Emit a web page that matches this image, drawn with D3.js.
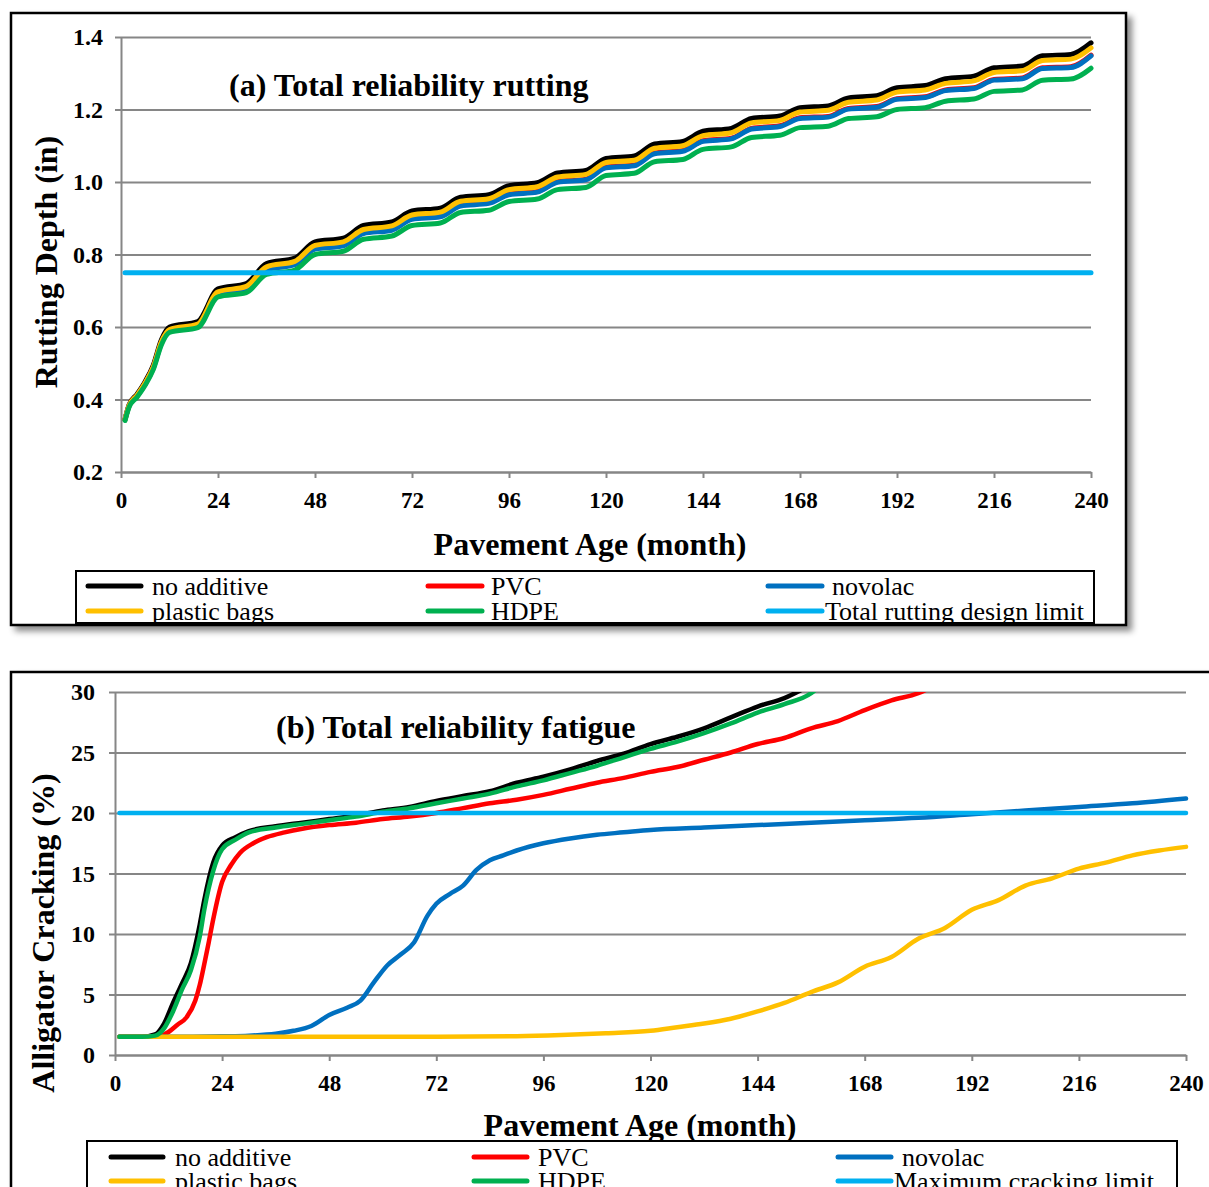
<!DOCTYPE html>
<html>
<head>
<meta charset="utf-8">
<script src="https://cdn.jsdelivr.net/npm/d3@7"></script>
<style>
  body { margin: 0; background: #fff; }
  svg { display: block; font-family: "Liberation Serif", "Times New Roman", serif; }
</style>
</head>
<body>
<div id="chart"></div>
<script>
// ---- (a) rutting data, in inches, by pavement age in months
var rutMonths = [1, 2, 4, 6, 8, 10, 12, 19, 24, 31, 36, 43, 48, 55, 60, 67, 72, 79, 84, 91, 96, 103, 108, 115, 120,
  127, 132, 139, 144, 151, 156, 163, 168, 175, 180, 187, 192, 199, 204, 211, 216, 223, 228, 235, 240];
var rutNoAdditive = [0.345, 0.385, 0.415, 0.45, 0.495, 0.565, 0.600, 0.615, 0.705, 0.720, 0.775, 0.790, 0.835, 0.845,
  0.880, 0.890, 0.920, 0.928, 0.958, 0.965, 0.990, 0.998, 1.025, 1.032, 1.065, 1.072, 1.105, 1.112, 1.140, 1.148,
  1.175, 1.182, 1.205, 1.210, 1.232, 1.238, 1.260, 1.266, 1.285, 1.292, 1.315, 1.320, 1.348, 1.352, 1.384];
var rutPVC = [0.345, 0.383, 0.411, 0.445, 0.489, 0.557, 0.591, 0.605, 0.692, 0.706, 0.760, 0.774, 0.817, 0.826,
  0.860, 0.869, 0.899, 0.906, 0.936, 0.943, 0.967, 0.974, 1.001, 1.008, 1.041, 1.047, 1.080, 1.087, 1.114, 1.121,
  1.148, 1.155, 1.177, 1.181, 1.203, 1.208, 1.230, 1.235, 1.254, 1.260, 1.283, 1.287, 1.315, 1.318, 1.350];
var rutNovolac = [0.345, 0.382, 0.410, 0.443, 0.487, 0.555, 0.589, 0.603, 0.690, 0.704, 0.758, 0.772, 0.815, 0.824,
  0.858, 0.867, 0.897, 0.904, 0.934, 0.941, 0.965, 0.972, 0.999, 1.006, 1.039, 1.045, 1.078, 1.085, 1.112, 1.119,
  1.146, 1.153, 1.175, 1.179, 1.201, 1.206, 1.228, 1.233, 1.252, 1.258, 1.281, 1.285, 1.313, 1.316, 1.348];
var rutPlasticBags = [0.345, 0.383, 0.412, 0.446, 0.490, 0.559, 0.593, 0.608, 0.697, 0.712, 0.766, 0.781, 0.825, 0.835,
  0.869, 0.879, 0.909, 0.917, 0.947, 0.954, 0.979, 0.987, 1.014, 1.021, 1.054, 1.060, 1.093, 1.100, 1.128, 1.136,
  1.163, 1.170, 1.193, 1.198, 1.220, 1.226, 1.248, 1.254, 1.272, 1.279, 1.302, 1.307, 1.335, 1.339, 1.370];
var rutHDPE = [0.342, 0.379, 0.407, 0.440, 0.483, 0.551, 0.585, 0.598, 0.683, 0.695, 0.745, 0.757, 0.800, 0.809,
  0.842, 0.851, 0.880, 0.887, 0.916, 0.922, 0.946, 0.953, 0.979, 0.985, 1.018, 1.024, 1.056, 1.062, 1.090, 1.097,
  1.123, 1.129, 1.150, 1.154, 1.175, 1.180, 1.200, 1.205, 1.223, 1.229, 1.250, 1.254, 1.281, 1.284, 1.314];
var rutLimit = 0.75;
var rutYTicks = [0.2, 0.4, 0.6, 0.8, 1.0, 1.2, 1.4];

// ---- (b) fatigue data, alligator cracking in %
var fatNoAdditiveMonths = [1, 6, 9, 11, 13, 15, 17, 19, 20, 22, 24, 27, 30, 36, 42, 48, 54, 60, 66, 72, 78, 84, 90, 96,
  102, 108, 114, 120, 126, 132, 138, 144, 150, 156];
var fatNoAdditive = [1.5, 1.5, 1.7, 2.6, 4.3, 5.9, 7.6, 10.8, 12.8, 15.9, 17.3, 18.0, 18.5, 18.9, 19.2, 19.5, 19.8, 20.2,
  20.5, 21.0, 21.4, 21.8, 22.5, 23.0, 23.6, 24.3, 24.9, 25.7, 26.3, 27.0, 27.9, 28.8, 29.5, 30.6];
var fatPVCMonths = [1, 8, 10, 12, 14, 16, 18, 19, 20, 21, 22, 24, 26, 28, 31, 34, 38, 42, 48, 54, 60, 66, 72, 78, 84, 90,
  96, 102, 108, 114, 120, 126, 132, 138, 144, 150, 156, 162, 168, 174, 180, 183];
var fatPVC = [1.5, 1.5, 1.55, 1.9, 2.5, 3.1, 4.5, 5.8, 7.5, 9.3, 11.2, 14.3, 15.7, 16.7, 17.5, 18.0, 18.4, 18.7, 19.0,
  19.2, 19.5, 19.7, 20.0, 20.4, 20.8, 21.1, 21.5, 22.0, 22.5, 22.9, 23.4, 23.8, 24.4, 25.0, 25.7, 26.2, 27.0, 27.6,
  28.5, 29.3, 29.9, 30.4];
var fatNovolacMonths = [1, 12, 24, 30, 36, 40, 44, 48, 52, 55, 58, 61, 64, 67, 70, 72, 75, 78, 81, 84, 87, 90, 96, 102,
  108, 114, 120, 132, 144, 156, 168, 180, 192, 204, 216, 228, 240];
var fatNovolac = [1.5, 1.5, 1.55, 1.6, 1.75, 2.0, 2.4, 3.3, 3.9, 4.5, 6.0, 7.4, 8.3, 9.3, 11.5, 12.5, 13.3, 14.0, 15.3,
  16.1, 16.5, 16.9, 17.5, 17.9, 18.2, 18.4, 18.6, 18.8, 19.0, 19.2, 19.4, 19.6, 19.9, 20.2, 20.5, 20.8, 21.2];
var fatPlasticBagsMonths = [1, 24, 48, 72, 90, 100, 110, 120, 126, 132, 138, 144, 150, 156, 162, 168, 174, 180, 186, 192,
  198, 204, 210, 216, 222, 228, 234, 240];
var fatPlasticBags = [1.5, 1.5, 1.5, 1.5, 1.55, 1.65, 1.8, 2.0, 2.3, 2.6, 3.0, 3.6, 4.3, 5.2, 6.0, 7.3, 8.1, 9.6, 10.5,
  12.0, 12.8, 14.0, 14.6, 15.4, 15.9, 16.5, 16.9, 17.2];
var fatHDPEMonths = [1, 6, 9, 11, 13, 15, 17, 19, 20, 22, 24, 27, 30, 36, 42, 48, 54, 60, 66, 72, 78, 84, 90, 96,
  102, 108, 114, 120, 126, 132, 138, 144, 150, 156, 158];
var fatHDPE = [1.5, 1.5, 1.6, 2.2, 3.6, 5.4, 7.0, 9.8, 12.0, 15.2, 17.0, 17.8, 18.4, 18.8, 19.1, 19.4, 19.7, 20.1,
  20.4, 20.8, 21.2, 21.6, 22.2, 22.7, 23.3, 23.9, 24.6, 25.3, 25.9, 26.6, 27.4, 28.3, 29.0, 29.9, 30.5];
var fatLimit = 20;
var fatYTicks = [0, 5, 10, 15, 20, 25, 30];

var monthTicks = [0, 24, 48, 72, 96, 120, 144, 168, 192, 216, 240];
var seriesNames = ["no additive", "PVC", "novolac", "plastic bags", "HDPE"];
var seriesColors = ["#000000", "#FF0000", "#0070C0", "#FFC000", "#00B050"];
var limitColor = "#00B0F0";

function zip(ms, vs) {
  return ms.map(function(m, i) { return {m: m, v: vs[i]}; });
}

var svg = d3.select("#chart").append("svg")
  .attr("width", 1209)
  .attr("height", 1187);

var defs = svg.append("defs");
var shadow = defs.append("filter").attr("id", "shadow")
  .attr("x", "-5%").attr("y", "-5%").attr("width", "112%").attr("height", "112%");
shadow.append("feDropShadow")
  .attr("dx", 5).attr("dy", 5).attr("stdDeviation", 3)
  .attr("flood-color", "#000").attr("flood-opacity", 0.45);

function drawPanel(cfg) {
  var g = svg.append("g");

  // outer frame
  g.append("rect")
    .attr("x", cfg.frame[0]).attr("y", cfg.frame[1])
    .attr("width", cfg.frame[2]).attr("height", cfg.frame[3])
    .attr("fill", "#fff").attr("stroke", "#000").attr("stroke-width", 2.5)
    .attr("filter", "url(#shadow)");

  var x = d3.scaleLinear().domain([0, 240]).range([cfg.left, cfg.right]);
  var y = d3.scaleLinear().domain(cfg.yDomain).range([cfg.bottom, cfg.top]);

  // gridlines
  g.append("g")
    .attr("transform", "translate(" + cfg.left + ",0)")
    .call(d3.axisLeft(y).tickValues(cfg.yTicks).tickSize(-(cfg.right - cfg.left)).tickFormat(""))
    .call(function(a) {
      a.select(".domain").remove();
      a.selectAll("line").attr("stroke", "#868686").attr("stroke-width", 2);
    });

  // y axis
  g.append("g")
    .attr("transform", "translate(" + cfg.left + ",0)")
    .call(d3.axisLeft(y).tickValues(cfg.yTicks).tickSize(6).tickSizeOuter(0)
      .tickPadding(cfg.yPad).tickFormat(cfg.yFormat))
    .call(function(a) {
      a.select(".domain").attr("stroke", "#868686").attr("stroke-width", 2);
      a.selectAll("line").attr("stroke", "#868686").attr("stroke-width", 2);
      a.selectAll("text").attr("font-size", 24).attr("font-weight", "bold")
        .attr("fill", "#000").attr("font-family", "Liberation Serif");
    });

  // x axis
  g.append("g")
    .attr("transform", "translate(0," + cfg.bottom + ")")
    .call(d3.axisBottom(x).tickValues(monthTicks).tickSize(6).tickSizeOuter(0).tickPadding(14))
    .call(function(a) {
      a.select(".domain").attr("stroke", "#868686").attr("stroke-width", 2);
      a.selectAll("line").attr("stroke", "#868686").attr("stroke-width", 2);
      a.selectAll("text").attr("font-size", 23).attr("font-weight", "bold")
        .attr("fill", "#000").attr("font-family", "Liberation Serif");
    });

  // clip for values running over the top
  var clipId = "clip" + cfg.id;
  defs.append("clipPath").attr("id", clipId)
    .append("rect")
    .attr("x", cfg.left - 10).attr("y", cfg.top)
    .attr("width", cfg.right - cfg.left + 20).attr("height", cfg.bottom - cfg.top + 10);

  var line = d3.line()
    .x(function(d) { return x(d.m); })
    .y(function(d) { return y(d.v); })
    .curve(d3.curveMonotoneX);

  var lines = g.append("g").attr("clip-path", "url(#" + clipId + ")");
  cfg.series.forEach(function(s, i) {
    lines.append("path")
      .datum(s)
      .attr("d", line)
      .attr("fill", "none")
      .attr("stroke", seriesColors[i])
      .attr("stroke-width", cfg.lineWidth)
      .attr("stroke-linecap", "round")
      .attr("stroke-linejoin", "round");
  });
  lines.append("path")
    .datum([{m: 1, v: cfg.limit}, {m: 240, v: cfg.limit}])
    .attr("d", line)
    .attr("fill", "none")
    .attr("stroke", limitColor)
    .attr("stroke-width", cfg.lineWidth)
    .attr("stroke-linecap", "round");

  // chart title inside the plot
  g.append("text")
    .attr("x", cfg.titleX).attr("y", cfg.titleY)
    .attr("dominant-baseline", "central")
    .attr("font-size", 32).attr("font-weight", "bold")
    .text(cfg.title);

  // axis titles
  g.append("text")
    .attr("x", cfg.xTitleX).attr("y", cfg.xTitleY)
    .attr("text-anchor", "middle").attr("dominant-baseline", "central")
    .attr("font-size", 32).attr("font-weight", "bold")
    .text("Pavement Age (month)");

  g.append("text")
    .attr("transform", "translate(" + cfg.yTitleX + "," + cfg.yTitleY + ") rotate(-90)")
    .attr("text-anchor", "middle").attr("dominant-baseline", "central")
    .attr("font-size", 32).attr("font-weight", "bold")
    .text(cfg.yTitle);

  // legend
  var lg = g.append("g");
  lg.append("rect")
    .attr("x", cfg.legendBox[0]).attr("y", cfg.legendBox[1])
    .attr("width", cfg.legendBox[2]).attr("height", cfg.legendBox[3])
    .attr("fill", "#fff").attr("stroke", "#000").attr("stroke-width", 2);

  var items = seriesNames.map(function(n, i) { return {name: n, color: seriesColors[i]}; });
  items.push({name: cfg.limitName, color: limitColor});
  var cols = cfg.legendCols;
  var rows = cfg.legendRows;
  items.forEach(function(it, i) {
    var c = i % 3, r = Math.floor(i / 3);
    lg.append("line")
      .attr("x1", cols[c][0]).attr("x2", cols[c][1])
      .attr("y1", rows[r]).attr("y2", rows[r])
      .attr("stroke", it.color).attr("stroke-width", 5).attr("stroke-linecap", "round");
    var tx = (i === 5) ? cols[c][1] + 3 : cols[c][2];
    lg.append("text")
      .attr("x", tx).attr("y", rows[r])
      .attr("dominant-baseline", "central")
      .attr("font-size", 26)
      .text(it.name);
  });
}

drawPanel({
  id: "a",
  frame: [11, 13, 1115, 612],
  left: 121, right: 1091, top: 37, bottom: 472,
  yDomain: [0.2, 1.4], yTicks: rutYTicks, yFormat: d3.format(".1f"), yPad: 12,
  lineWidth: 5,
  series: [
    zip(rutMonths, rutNoAdditive),
    zip(rutMonths, rutPVC),
    zip(rutMonths, rutNovolac),
    zip(rutMonths, rutPlasticBags),
    zip(rutMonths, rutHDPE)
  ],
  limit: rutLimit,
  limitName: "Total rutting design limit",
  title: "(a) Total reliability rutting", titleX: 229, titleY: 85,
  xTitleX: 590, xTitleY: 544,
  yTitle: "Rutting Depth (in)", yTitleX: 46, yTitleY: 262,
  legendBox: [76, 571, 1018, 52],
  legendCols: [[88, 141, 152], [428, 482, 491], [768, 822, 832]],
  legendRows: [586, 611]
});

drawPanel({
  id: "b",
  frame: [11, 672, 1300, 600],
  left: 115, right: 1186, top: 692, bottom: 1055,
  yDomain: [0, 30], yTicks: fatYTicks, yFormat: d3.format("d"), yPad: 14,
  lineWidth: 4.5,
  series: [
    zip(fatNoAdditiveMonths, fatNoAdditive),
    zip(fatPVCMonths, fatPVC),
    zip(fatNovolacMonths, fatNovolac),
    zip(fatPlasticBagsMonths, fatPlasticBags),
    zip(fatHDPEMonths, fatHDPE)
  ],
  limit: fatLimit,
  limitName: "Maximum cracking limit",
  title: "(b) Total reliability fatigue", titleX: 276, titleY: 727,
  xTitleX: 640, xTitleY: 1125,
  yTitle: "Alligator Cracking (%)", yTitleX: 43, yTitleY: 933,
  legendBox: [87, 1141, 1090, 80],
  legendCols: [[111, 163, 175], [474, 527, 538], [838, 891, 902]],
  legendRows: [1157, 1181]
});
</script>
</body>
</html>
